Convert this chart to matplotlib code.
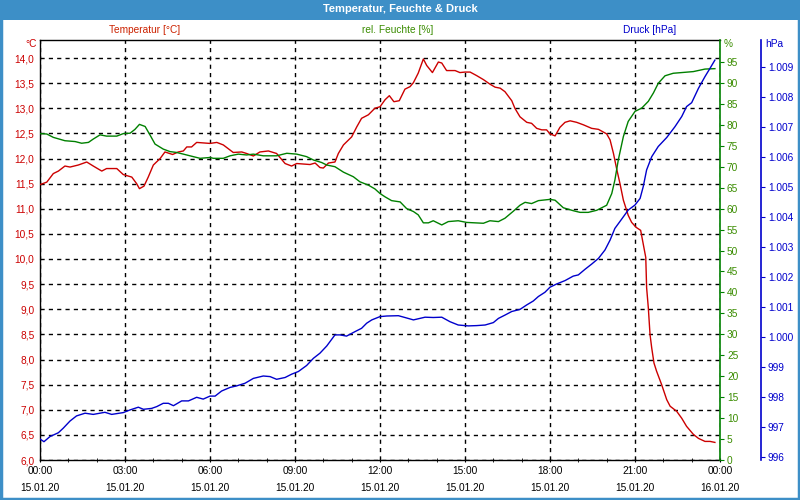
import matplotlib
matplotlib.use("Agg")
import matplotlib.pyplot as plt
from matplotlib.patches import Rectangle
from matplotlib.ticker import FuncFormatter, MultipleLocator, FixedLocator

plt.rcParams['font.family'] = ['Liberation Sans', 'DejaVu Sans']

# ---------------- data (hours since 15.01.20 00:00) ----------------
temp_hours = [0.00, 0.24, 0.47, 0.65, 0.88, 1.06, 1.35, 1.65, 1.88, 2.18, 2.35, 2.71, 2.94, 3.24, 3.41, 3.51,
              3.67, 3.82, 4.00, 4.24, 4.41, 4.68, 4.88, 5.06, 5.18, 5.35, 5.53,
              6.00, 6.24, 6.47, 6.82, 7.12, 7.29, 7.53, 7.76, 8.06, 8.35, 8.65, 8.88, 9.06, 9.53, 9.71, 9.88,
              10.00, 10.18, 10.41, 10.53, 10.71, 11.00, 11.18, 11.35, 11.59, 11.82,
              12.00, 12.18, 12.33, 12.49, 12.68, 12.88, 13.06, 13.18, 13.35, 13.53, 13.65, 13.85, 14.06, 14.18,
              14.35, 14.65, 14.82, 15.00, 15.18, 15.41, 15.65, 15.88, 16.06, 16.24, 16.41, 16.65, 16.76, 16.94,
              17.18, 17.35, 17.53, 17.71, 17.88,
              18.00, 18.18, 18.35, 18.53, 18.71, 18.94, 19.18, 19.47, 19.71, 20.00, 20.12, 20.24, 20.35, 20.47,
              20.59, 20.76, 20.88, 21.04, 21.20, 21.29, 21.38, 21.41, 21.47, 21.53, 21.59, 21.67, 21.76, 21.94,
              22.12, 22.24, 22.47, 22.65, 22.82, 23.06, 23.24, 23.47, 23.65, 23.82]
temperature = [11.48, 11.53, 11.70, 11.75, 11.85, 11.83, 11.87, 11.93, 11.85, 11.75, 11.80, 11.80, 11.68, 11.63, 11.50, 11.40,
               11.45, 11.63, 11.87, 12.00, 12.13, 12.08, 12.13, 12.15, 12.23, 12.23, 12.32,
               12.30, 12.32, 12.27, 12.12, 12.13, 12.10, 12.05, 12.13, 12.15, 12.10, 11.90, 11.85, 11.90, 11.88, 11.91, 11.82,
               11.81, 11.91, 11.93, 12.10, 12.27, 12.43, 12.63, 12.80, 12.87, 13.00,
               13.03, 13.17, 13.25, 13.13, 13.15, 13.38, 13.43, 13.51, 13.70, 13.98, 13.85, 13.71, 13.92, 13.90,
               13.75, 13.75, 13.71, 13.72, 13.72, 13.65, 13.57, 13.48, 13.42, 13.40, 13.33, 13.15, 13.00, 12.83,
               12.72, 12.70, 12.60, 12.57, 12.57,
               12.49, 12.45, 12.62, 12.72, 12.75, 12.72, 12.67, 12.60, 12.58, 12.49, 12.37, 12.10, 11.80, 11.50,
               11.17, 10.87, 10.73, 10.63, 10.57, 10.30, 10.03, 9.43, 9.03, 8.50, 8.23, 7.93, 7.77, 7.50,
               7.20, 7.07, 6.97, 6.83, 6.67, 6.51, 6.43, 6.37, 6.37, 6.35]

hum_hours = [0.00, 0.24, 0.47, 0.88, 1.24, 1.47, 1.71, 1.88, 2.12, 2.35, 2.71, 2.94, 3.18, 3.35, 3.51, 3.71,
             3.88, 4.06, 4.35, 4.59, 4.82, 5.06, 5.41, 5.65,
             6.00, 6.12, 6.47, 6.71, 7.00, 7.29, 7.53, 7.88, 8.35, 8.71, 9.06, 9.41, 9.65, 9.94, 10.12, 10.41,
             10.71, 11.06, 11.29, 11.59, 11.82,
             12.00, 12.18, 12.41, 12.71, 12.94, 13.18, 13.35, 13.53, 13.71, 13.88, 14.06, 14.18, 14.41, 14.76,
             15.06, 15.35, 15.65, 15.88, 16.18, 16.41, 16.71, 16.94, 17.12, 17.35, 17.59,
             18.00, 18.18, 18.47, 18.82, 19.06, 19.35, 19.65, 20.00, 20.18, 20.29, 20.41, 20.59, 20.76, 21.00,
             21.24, 21.47, 21.65, 21.82, 22.06, 22.35, 22.71, 23.06, 23.47, 23.82]
humidity = [77.9, 77.8, 77.0, 76.2, 76.0, 75.6, 75.8, 76.6, 77.6, 77.3, 77.3, 77.9, 78.0, 78.9, 80.1, 79.6,
            77.6, 75.4, 74.2, 73.6, 73.4, 73.0, 72.4, 72.0,
            72.2, 72.0, 72.0, 72.6, 73.0, 72.8, 73.0, 72.6, 72.6, 73.2, 73.0, 72.4, 71.6, 71.0, 70.4, 70.0,
            68.7, 67.6, 66.4, 65.6, 64.7,
            63.6, 62.8, 61.9, 61.6, 60.0, 59.3, 58.5, 56.6, 56.6, 57.1, 56.5, 56.1, 56.9, 57.1,
            56.7, 56.6, 56.5, 57.1, 56.9, 57.7, 59.4, 60.8, 61.5, 61.2, 61.9,
            62.2, 62.0, 60.2, 59.5, 59.1, 59.1, 59.6, 60.8, 63.6, 66.8, 71.6, 77.2, 80.8, 83.2,
            84.0, 85.6, 87.6, 89.9, 91.7, 92.3, 92.5, 92.7, 93.3, 93.4]

pres_hours = [0.00, 0.14, 0.35, 0.65, 0.82, 1.06, 1.29, 1.59, 1.88, 2.29, 2.53, 2.94, 3.18, 3.47, 3.65, 3.94,
              4.12, 4.35, 4.53, 4.71, 5.00, 5.24, 5.53, 5.76,
              6.00, 6.18, 6.41, 6.71, 6.94, 7.24, 7.53, 7.88, 8.12, 8.35, 8.65, 8.88, 9.12, 9.41, 9.65, 9.88,
              10.12, 10.41, 10.59, 10.82, 11.12, 11.35, 11.53, 11.71,
              12.00, 12.24, 12.65, 12.88, 13.18, 13.59, 13.88, 14.18, 14.47, 14.76, 15.12, 15.41, 15.71, 16.00,
              16.18, 16.41, 16.65, 16.94, 17.18, 17.41, 17.59, 17.82,
              18.00, 18.24, 18.53, 18.82, 19.00, 19.24, 19.47, 19.71, 19.94, 20.12, 20.29, 20.53, 20.76, 21.00,
              21.18, 21.29, 21.41, 21.59, 21.82, 22.12, 22.41, 22.65, 22.82, 23.00, 23.24, 23.47, 23.65, 23.82]
pressure = [996.61, 996.52, 996.69, 996.82, 996.97, 997.21, 997.38, 997.47, 997.43, 997.50, 997.43, 997.49, 997.58, 997.67, 997.60, 997.63,
            997.69, 997.80, 997.80, 997.72, 997.88, 997.88, 998.00, 997.94,
            998.04, 998.04, 998.21, 998.33, 998.38, 998.47, 998.63, 998.71, 998.69, 998.60, 998.66, 998.77, 998.86, 999.06, 999.30, 999.47,
            999.71, 1000.08, 1000.08, 1000.04, 1000.19, 1000.30, 1000.47, 1000.58,
            1000.69, 1000.71, 1000.72, 1000.66, 1000.58, 1000.67, 1000.66, 1000.67, 1000.52, 1000.41, 1000.38, 1000.39, 1000.41, 1000.49,
            1000.63, 1000.74, 1000.86, 1000.93, 1001.08, 1001.21, 1001.36, 1001.50,
            1001.67, 1001.78, 1001.89, 1002.04, 1002.08, 1002.27, 1002.44, 1002.63, 1002.91, 1003.24, 1003.63, 1003.94, 1004.24, 1004.41,
            1004.63, 1005.02, 1005.58, 1006.02, 1006.36, 1006.66, 1007.02, 1007.36, 1007.69, 1007.82, 1008.30, 1008.69, 1008.97, 1009.24]

x_tick_hours = [0, 3, 6, 9, 12, 15, 18, 21, 24]
x_tick_labels = ["00:00\n15.01.20", "03:00\n15.01.20", "06:00\n15.01.20", "09:00\n15.01.20",
                 "12:00\n15.01.20", "15:00\n15.01.20", "18:00\n15.01.20", "21:00\n15.01.20",
                 "00:00\n16.01.20"]

title = "Temperatur, Feuchte & Druck"
label_temp = "Temperatur [°C]"
label_hum = "rel. Feuchte [%]"
label_pres = "Druck [hPa]"

# ---------------- styling ----------------
RED = '#cc0000'
GREEN = '#008000'
GREEN_TXT = '#3a8c00'
BLUE = '#0000cc'
BAR = '#3d8fc7'
FS = 7.3

fig = plt.figure(figsize=(8, 5), dpi=100)
fig.patch.set_facecolor('white')

# title bar and frame
fig.patches.append(Rectangle((0, 480 / 500), 1, 20 / 500, transform=fig.transFigure,
                             facecolor=BAR, edgecolor='none', zorder=0))
fig.patches.append(Rectangle((0.0015, 0.002), 0.997, 0.996, transform=fig.transFigure,
                             facecolor='none', edgecolor=BAR, linewidth=2.5, zorder=0))
fig.text(0.5, 1 - 9.5 / 500, title, color='white', fontsize=8, fontweight='bold',
         ha='center', va='center')

L, R, B, T = 40 / 800, 720 / 800, 40 / 500, 460 / 500
ax = fig.add_axes([L, B, R - L, T - B])
ax.set_xlim(0, 24)
ax.set_ylim(6.0, 6.0 + 420 / 50.25)

ax.plot(temp_hours, temperature, color=RED, lw=1.0, zorder=3)

ax.yaxis.set_major_locator(FixedLocator([6.0 + 0.5 * i for i in range(17)]))
ax.yaxis.set_major_formatter(FuncFormatter(lambda v, p: f"{v:.1f}".replace('.', ',')))
ax.tick_params(axis='y', length=0, pad=4, labelsize=FS, labelcolor=RED)
ax.set_xticks(x_tick_hours)
ax.set_xticklabels(x_tick_labels, fontsize=FS, linespacing=1.9)
ax.xaxis.set_minor_locator(MultipleLocator(1))
ax.tick_params(axis='x', which='both', direction='inout', length=3, pad=3, color='black')
ax.grid(True, which='major', color='black', linestyle=(0, (3, 3)), linewidth=1.0)
for s in ['left', 'top', 'bottom']:
    ax.spines[s].set_color('black')
    ax.spines[s].set_linewidth(1.0)
ax.spines['right'].set_visible(False)

# humidity axis
axh = ax.twinx()
axh.set_ylim(0, 420 / 4.19)
axh.plot(hum_hours, humidity, color=GREEN, lw=1.0, zorder=3)
axh.yaxis.set_major_locator(FixedLocator(list(range(0, 100, 5))))
axh.tick_params(axis='y', direction='out', length=3, pad=2, colors=GREEN, labelsize=FS)
for lab in axh.get_yticklabels():
    lab.set_color(GREEN_TXT)
axh.spines['right'].set_color(GREEN)
axh.spines['right'].set_linewidth(1.2)
for s in ['left', 'top', 'bottom']:
    axh.spines[s].set_visible(False)

# pressure axis
axp = ax.twinx()
axp.spines['right'].set_position(('axes', (761 - 40) / 680))
axp.set_ylim(996 - 2.7 / 30, 996 - 2.7 / 30 + 420 / 30)
axp.plot(pres_hours, pressure, color=BLUE, lw=1.0, zorder=3)
axp.yaxis.set_major_locator(FixedLocator(list(range(996, 1010))))
axp.yaxis.set_major_formatter(FuncFormatter(lambda v, p: f"{v:,.0f}".replace(',', '.')))
axp.tick_params(axis='y', direction='out', length=3, pad=2, colors=BLUE, labelsize=FS)
axp.spines['right'].set_color(BLUE)
axp.spines['right'].set_linewidth(1.2)
for s in ['left', 'top', 'bottom']:
    axp.spines[s].set_visible(False)

# header labels and units
fig.text(145 / 800, 1 - 30 / 500, label_temp, color='#cc2200', fontsize=FS, ha='center', va='center')
fig.text(398 / 800, 1 - 30 / 500, label_hum, color=GREEN_TXT, fontsize=FS, ha='center', va='center')
fig.text(650 / 800, 1 - 30 / 500, label_pres, color=BLUE, fontsize=FS, ha='center', va='center')
fig.text(37 / 800, 1 - 44 / 500, "°C", color=RED, fontsize=FS, ha='right', va='center')
fig.text(724 / 800, 1 - 44 / 500, "%", color=GREEN_TXT, fontsize=FS, ha='left', va='center')
fig.text(765 / 800, 1 - 44 / 500, "hPa", color=BLUE, fontsize=FS, ha='left', va='center')

fig.savefig("out.png", dpi=100)
